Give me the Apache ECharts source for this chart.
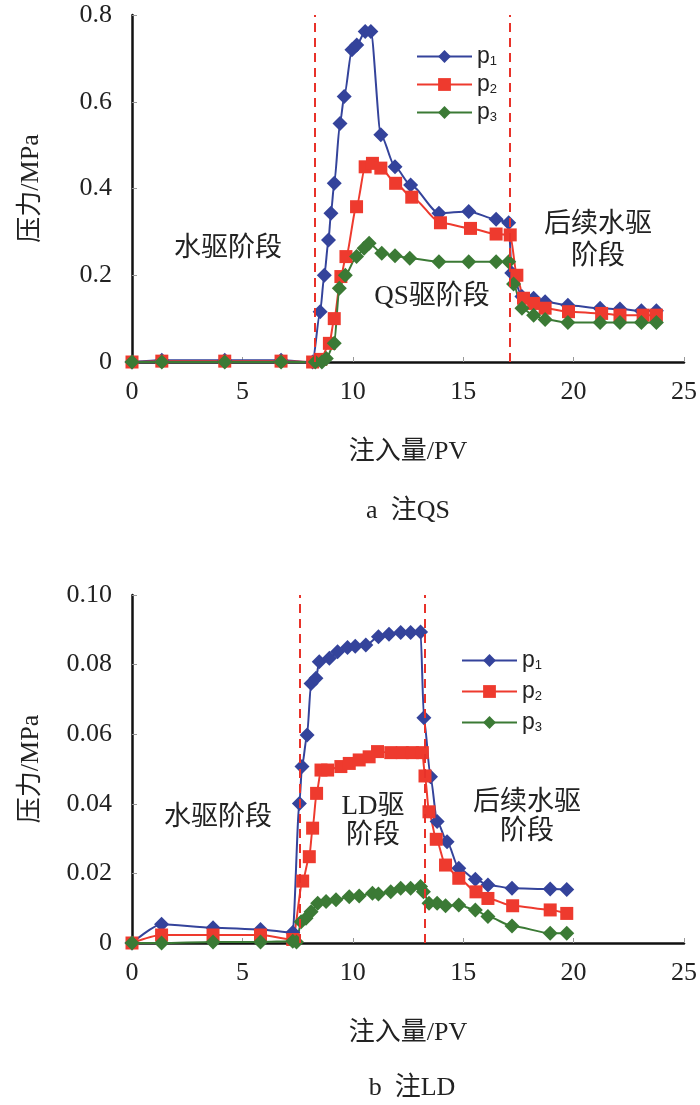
<!DOCTYPE html>
<html><head><meta charset="utf-8">
<script src="https://cdn.jsdelivr.net/npm/echarts@6/dist/echarts.min.js"></script>
<style>html,body{margin:0;padding:0;background:#fff}#c{width:700px;height:1105px}</style>
</head><body><div id="c"></div>
<script>
// ---- Data: chart a (注QS) ----
const qsP1X = [0, 1.35, 4.2, 6.75, 8.18, 8.52, 8.71, 8.90, 9.01, 9.16, 9.42, 9.61, 9.96, 10.18, 10.56, 10.82, 11.27, 11.91, 12.62, 13.9, 15.25, 16.49, 17.06, 17.2, 17.66, 18.19, 18.71, 19.74, 21.2, 22.1, 23.07, 23.75];
const qsP1Y = [0, 0.004, 0.004, 0.004, 0.0, 0.116, 0.20, 0.281, 0.343, 0.412, 0.55, 0.612, 0.72, 0.731, 0.762, 0.762, 0.524, 0.45, 0.408, 0.343, 0.347, 0.329, 0.321, 0.205, 0.151, 0.147, 0.139, 0.131, 0.124, 0.122, 0.118, 0.118];
const qsP2X = [0, 1.35, 4.2, 6.75, 8.18, 8.55, 8.94, 9.16, 9.46, 9.69, 10.17, 10.56, 10.89, 11.27, 11.94, 12.67, 13.97, 15.33, 16.49, 17.13, 17.43, 17.73, 18.19, 18.71, 19.77, 21.27, 22.1, 23.15, 23.75];
const qsP2Y = [0, 0.002, 0.002, 0.002, 0.0, 0.006, 0.043, 0.10, 0.197, 0.243, 0.358, 0.45, 0.458, 0.447, 0.412, 0.38, 0.321, 0.308, 0.295, 0.293, 0.20, 0.147, 0.135, 0.124, 0.116, 0.112, 0.108, 0.108, 0.108];
const qsP3X = [0, 1.35, 4.2, 6.75, 8.3, 8.6, 8.8, 9.16, 9.39, 9.66, 10.17, 10.51, 10.74, 11.31, 11.91, 12.58, 13.9, 15.25, 16.49, 17.06, 17.28, 17.66, 18.19, 18.71, 19.74, 21.2, 22.1, 23.07, 23.75];
const qsP3Y = [0, 0, 0, 0, 0, 0, 0.008, 0.043, 0.17, 0.20, 0.243, 0.262, 0.274, 0.251, 0.245, 0.239, 0.231, 0.231, 0.231, 0.231, 0.18, 0.124, 0.108, 0.098, 0.091, 0.091, 0.091, 0.091, 0.091];
const qsStages = [8.29, 17.13];

// ---- Data: chart b (注LD) ----
const ldP1X = [0, 1.34, 3.67, 5.82, 7.28, 7.58, 7.70, 7.93, 8.11, 8.33, 8.48, 8.94, 9.31, 9.76, 10.11, 10.59, 11.16, 11.64, 12.17, 12.62, 13.07, 13.22, 13.52, 13.82, 14.27, 14.8, 15.55, 16.12, 17.21, 18.94, 19.69];
const ldP1Y = [0, 0.0054, 0.0044, 0.0039, 0.003, 0.0401, 0.0507, 0.0598, 0.0746, 0.0761, 0.0808, 0.0818, 0.0837, 0.0849, 0.0853, 0.0856, 0.0880, 0.0887, 0.0892, 0.0892, 0.0894, 0.0647, 0.0478, 0.0349, 0.0291, 0.0215, 0.0183, 0.0167, 0.0157, 0.0155, 0.0154];
const ldP2X = [0, 1.34, 3.67, 5.82, 7.28, 7.73, 8.03, 8.18, 8.36, 8.56, 8.86, 9.46, 9.84, 10.29, 10.74, 11.12, 11.72, 12.24, 12.7, 13.15, 13.27, 13.45, 13.78, 14.2, 14.8, 15.58, 16.12, 17.24, 18.94, 19.69];
const ldP2Y = [0, 0.0023, 0.0023, 0.0023, 0.001, 0.0178, 0.0248, 0.033, 0.043, 0.0497, 0.0497, 0.0507, 0.0516, 0.0526, 0.0535, 0.055, 0.0547, 0.0547, 0.0547, 0.0547, 0.048, 0.0377, 0.0298, 0.0224, 0.0186, 0.0147, 0.0128, 0.0107, 0.0095, 0.0085];
const ldP3X = [0, 1.34, 3.67, 5.82, 7.28, 7.45, 7.66, 7.88, 8.11, 8.41, 8.79, 9.24, 9.84, 10.29, 10.89, 11.16, 11.72, 12.17, 12.62, 13.07, 13.2, 13.45, 13.82, 14.2, 14.8, 15.55, 16.12, 17.21, 18.94, 19.69];
const ldP3Y = [0, 0, 0.0003, 0.0003, 0.0005, 0.0003, 0.0061, 0.0071, 0.009, 0.0114, 0.0119, 0.0124, 0.0133, 0.0135, 0.0143, 0.0141, 0.0147, 0.0157, 0.0157, 0.0162, 0.0147, 0.0114, 0.0114, 0.0107, 0.0109, 0.0095, 0.0076, 0.0049, 0.0028, 0.0028];
const ldStages = [7.58, 13.25];

const seriesNames = ['p1', 'p2', 'p3'];
const xTicks = [0, 5, 10, 15, 20, 25];
const qsYTicks = [0, 0.2, 0.4, 0.6, 0.8];
const ldYTicks = [0, 0.02, 0.04, 0.06, 0.08, 0.10];

// ---- styles ----
const COLORS = ['#34439b', '#ee3a2e', '#3b7a35'];
const SYMBOLS = ['diamond', 'rect', 'diamond'];
const SIZES = [15, 13, 15];
const FONT = '"Liberation Serif", "Noto Sans CJK SC", serif';
const CJK = '"Liberation Serif", "Noto Sans CJK SC", sans-serif';

const zip = (xs, ys) => xs.map((x, i) => [x, ys[i]]);

function xAxisCfg(gi) {
  return {
    type: 'value', gridIndex: gi, min: xTicks[0], max: xTicks[xTicks.length - 1], interval: 5,
    name: '注入量/PV', nameLocation: 'middle', nameGap: 77,
    nameTextStyle: { fontFamily: CJK, fontSize: 26, color: '#222' },
    axisLine: { show: true, onZero: false, lineStyle: { color: '#111', width: 2.5 } },
    axisTick: { show: true, inside: true, length: 5, lineStyle: { color: '#999', width: 1 } },
    axisLabel: { fontFamily: FONT, fontSize: 26, color: '#222', margin: 17 },
    splitLine: { show: false }
  };
}
function yAxisCfg(gi, ticks, dec) {
  return {
    type: 'value', gridIndex: gi, min: ticks[0], max: ticks[ticks.length - 1], interval: ticks[1] - ticks[0],
    name: '压力/MPa', nameLocation: 'middle', nameGap: 88, nameRotate: 90,
    nameTextStyle: { fontFamily: CJK, fontSize: 26, color: '#222' },
    axisLine: { show: true, onZero: false, lineStyle: { color: '#111', width: 2.5 } },
    axisTick: { show: true, inside: true, length: 5, lineStyle: { color: '#999', width: 1 } },
    axisLabel: { fontFamily: FONT, fontSize: 26, color: '#222', margin: 20,
      formatter: v => (Math.abs(v) < 1e-9 ? '0' : v.toFixed(dec)) },
    splitLine: { show: false }
  };
}
function lineSeries(i, gi, xs, ys, stages) {
  const s = {
    name: seriesNames[i], type: 'line', xAxisIndex: gi, yAxisIndex: gi,
    data: zip(xs, ys), symbol: SYMBOLS[i], symbolSize: SIZES[i],
    smooth: 0.25, smoothMonotone: 'x',
    lineStyle: { color: COLORS[i], width: 2 },
    itemStyle: { color: COLORS[i] },
    emphasis: { disabled: true }, animation: false
  };
  if (i === 0) {
    s.markLine = {
      silent: true, symbol: ['none', 'none'], label: { show: false },
      lineStyle: { color: '#e8322a', type: [9, 6], width: 2 },
      data: stages.map(v => ({ xAxis: v }))
    };
  }
  return s;
}
function legendCfg(left, top, gap) {
  return {
    orient: 'vertical', left: left, top: top, itemWidth: 55, itemHeight: 16, itemGap: gap,
    data: seriesNames, selectedMode: false,
    formatter: n => 'p{s|' + n.slice(1) + '}',
    textStyle: { fontFamily: '"Liberation Sans", Arial, sans-serif', fontSize: 23, color: '#222',
      rich: { s: { fontFamily: '"Liberation Sans", Arial, sans-serif', fontSize: 13, verticalAlign: 'bottom', lineHeight: 14, padding: [9, 0, 0, 0] } } }
  };
}
const txt = (x, y, t, size, lh) => ({
  type: 'text', x: x, y: y, silent: true,
  style: { text: t, fontFamily: CJK, fontSize: size, fill: '#222', align: 'center', verticalAlign: 'middle', lineHeight: lh || size + 4 }
});

const chart = echarts.init(document.getElementById('c'), null, { renderer: 'canvas' });
chart.setOption({
  animation: false,
  backgroundColor: '#fff',
  grid: [
    { left: 132, right: 14, top: 15, height: 347 },
    { left: 132, right: 14, top: 595, height: 348 }
  ],
  xAxis: [xAxisCfg(0), xAxisCfg(1)],
  yAxis: [yAxisCfg(0, qsYTicks, 1), yAxisCfg(1, ldYTicks, 2)],
  legend: [legendCfg(411, 40, 5), legendCfg(456, 644, 8)],
  series: [
    lineSeries(0, 0, qsP1X, qsP1Y, qsStages),
    lineSeries(1, 0, qsP2X, qsP2Y, qsStages),
    lineSeries(2, 0, qsP3X, qsP3Y, qsStages),
    lineSeries(0, 1, ldP1X, ldP1Y, ldStages),
    lineSeries(1, 1, ldP2X, ldP2Y, ldStages),
    lineSeries(2, 1, ldP3X, ldP3Y, ldStages)
  ],
  graphic: [
    txt(228, 249, '水驱阶段', 27),
    txt(432, 297, 'QS驱阶段', 27),
    txt(598, 241, '后续水驱\n阶段', 27, 32),
    txt(218, 818, '水驱阶段', 27),
    txt(373, 821, 'LD驱\n阶段', 27, 29),
    txt(527, 817, '后续水驱\n阶段', 27, 29),
    txt(408, 511, 'a  注QS', 26),
    txt(412, 1088, 'b  注LD', 26)
  ]
});
</script></body></html>
